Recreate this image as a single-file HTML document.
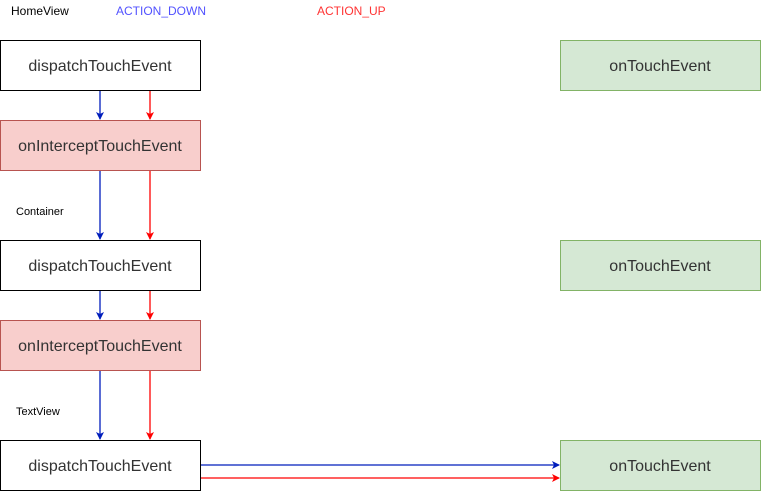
<!DOCTYPE html>
<html><head><meta charset="utf-8"><style>
html,body{margin:0;padding:0;background:#fff;width:761px;height:491px;overflow:hidden}
</style></head><body>
<svg width="761" height="491" xmlns="http://www.w3.org/2000/svg" font-family="Liberation Sans, Arial, sans-serif">
<defs>
<marker id="b" markerWidth="8" markerHeight="8" refX="7" refY="4" orient="auto" markerUnits="userSpaceOnUse"><path d="M0,0 L8,4 L0,8 L2,4 z" fill="#001DBC"/></marker>
<marker id="r" markerWidth="8" markerHeight="8" refX="7" refY="4" orient="auto" markerUnits="userSpaceOnUse"><path d="M0,0 L8,4 L0,8 L2,4 z" fill="#FF0000"/></marker>
</defs>
<text x="11" y="15" font-size="12" fill="#000">HomeView</text>
<text x="116" y="15" font-size="12" fill="#3333FF" fill-opacity="0.85">ACTION_DOWN</text>
<text x="317" y="15" font-size="12" fill="#FF3333">ACTION_UP</text>
<text x="16" y="215" font-size="11" fill="#000">Container</text>
<text x="16" y="415" font-size="11" fill="#000">TextView</text>
<g stroke-width="1.3" fill="none">
<line x1="100" y1="90" x2="100" y2="119" stroke="#001DBC" marker-end="url(#b)"/>
<line x1="150" y1="90" x2="150" y2="119" stroke="#FF0000" marker-end="url(#r)"/>
<line x1="100" y1="170" x2="100" y2="239" stroke="#001DBC" marker-end="url(#b)"/>
<line x1="150" y1="170" x2="150" y2="239" stroke="#FF0000" marker-end="url(#r)"/>
<line x1="100" y1="290" x2="100" y2="319" stroke="#001DBC" marker-end="url(#b)"/>
<line x1="150" y1="290" x2="150" y2="319" stroke="#FF0000" marker-end="url(#r)"/>
<line x1="100" y1="370" x2="100" y2="439" stroke="#001DBC" marker-end="url(#b)"/>
<line x1="150" y1="370" x2="150" y2="439" stroke="#FF0000" marker-end="url(#r)"/>
<line x1="200" y1="465" x2="559" y2="465" stroke="#001DBC" marker-end="url(#b)"/>
<line x1="200" y1="478" x2="559" y2="478" stroke="#FF0000" marker-end="url(#r)"/>
</g>
<g font-size="16" fill="#333" text-anchor="middle">
<rect x="0.5" y="40.5" width="200" height="50" fill="#fff" stroke="#000"/>
<text x="100" y="71">dispatchTouchEvent</text>
<rect x="0.5" y="120.5" width="200" height="50" fill="#F8CECC" stroke="#B85450"/>
<text x="100" y="151">onInterceptTouchEvent</text>
<rect x="0.5" y="240.5" width="200" height="50" fill="#fff" stroke="#000"/>
<text x="100" y="271">dispatchTouchEvent</text>
<rect x="0.5" y="320.5" width="200" height="50" fill="#F8CECC" stroke="#B85450"/>
<text x="100" y="351">onInterceptTouchEvent</text>
<rect x="0.5" y="440.5" width="200" height="50" fill="#fff" stroke="#000"/>
<text x="100" y="471">dispatchTouchEvent</text>
<rect x="560.5" y="40.5" width="200" height="50" fill="#D5E8D4" stroke="#82B366"/>
<text x="660" y="71">onTouchEvent</text>
<rect x="560.5" y="240.5" width="200" height="50" fill="#D5E8D4" stroke="#82B366"/>
<text x="660" y="271">onTouchEvent</text>
<rect x="560.5" y="440.5" width="200" height="50" fill="#D5E8D4" stroke="#82B366"/>
<text x="660" y="471">onTouchEvent</text>
</g>
</svg>
</body></html>
